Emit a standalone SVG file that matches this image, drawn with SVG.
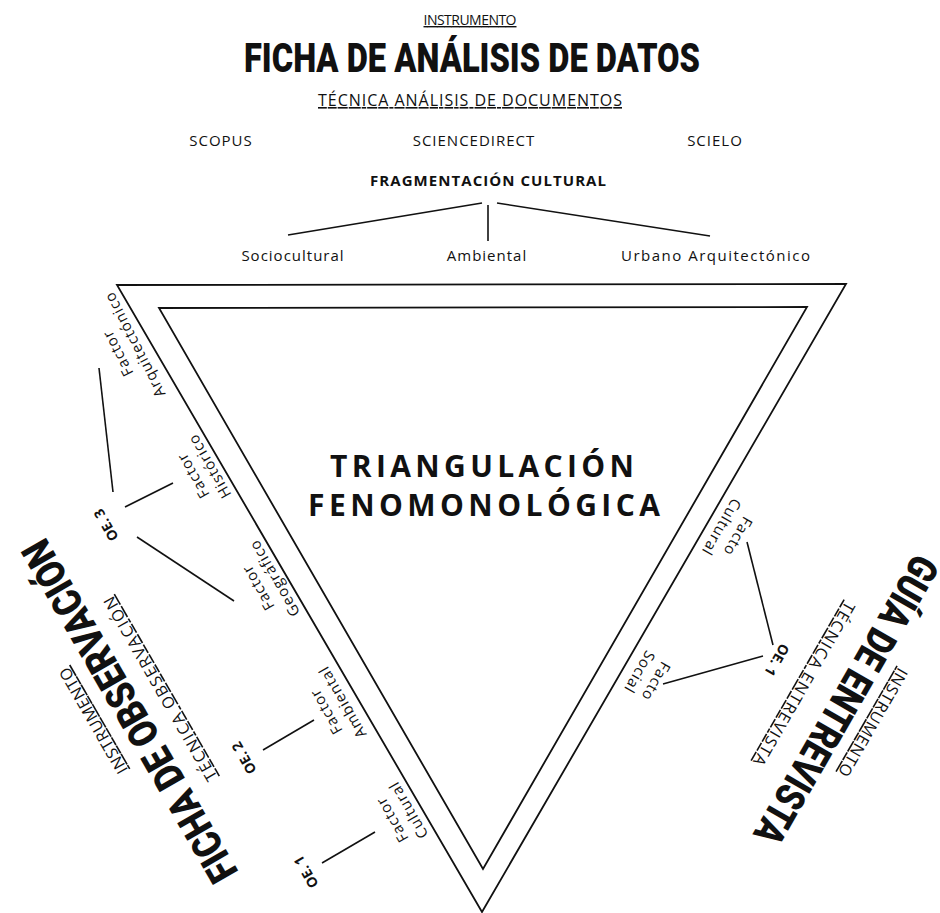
<svg xmlns="http://www.w3.org/2000/svg" width="940" height="913" viewBox="0 0 940 913">
<style>
.t{font-family:"Open Sans","Noto Sans",sans-serif;fill:#111}
.lab{font-size:15px;letter-spacing:1px;text-anchor:middle}
.src{font-size:15px;letter-spacing:1px;text-anchor:middle}
.oe{font-size:14px;font-weight:700;text-anchor:middle}
.big{font-family:Roboto,"Liberation Sans",sans-serif;font-weight:900;font-size:41px;fill:#111;text-anchor:middle}
.ul{text-decoration:underline}
.ln{stroke:#111;stroke-width:1.6;fill:none}
.tri{stroke:#111;stroke-width:1.8;fill:none}
</style>
<rect width="940" height="913" fill="#fff"/>

<g id="header">
<text class="t ul" x="470" y="25" font-size="14" text-anchor="middle" textLength="93" lengthAdjust="spacing">INSTRUMENTO</text>
<text class="big" x="472" y="72" font-size="42" textLength="456" lengthAdjust="spacingAndGlyphs">FICHA DE ANÁLISIS DE DATOS</text>
<text class="t ul" x="470" y="106" font-size="16" text-anchor="middle" textLength="304" lengthAdjust="spacing">TÉCNICA ANÁLISIS DE DOCUMENTOS</text>
</g>
<g id="scopus"><text class="t src" x="221" y="146">SCOPUS</text></g>
<g id="sciencedirect"><text class="t src" x="474" y="146">SCIENCEDIRECT</text></g>
<g id="scielo"><text class="t src" x="715" y="146">SCIELO</text></g>
<g id="fragmentacion"><text class="t" x="488" y="186" font-size="15" font-weight="700" text-anchor="middle" textLength="236" lengthAdjust="spacing">FRAGMENTACIÓN CULTURAL</text></g>
<g id="sociocultural"><text class="t lab" x="293" y="261">Sociocultural</text></g>
<g id="ambiental"><text class="t lab" x="487" y="261">Ambiental</text></g>
<g id="urbano"><text class="t lab" x="716" y="261" textLength="190" lengthAdjust="spacing">Urbano Arquitectónico</text></g>

<g id="triangle">
<polygon class="tri" points="117,285 846,284 482,912"/>
<polygon class="tri" points="159,308 807,307 483,869"/>
</g>
<g id="centro">
<text class="t" x="482" y="477" font-size="30" font-weight="700" text-anchor="middle" textLength="304" lengthAdjust="spacing">TRIANGULACIÓN</text>
<text class="t" x="484" y="516" font-size="30" font-weight="700" text-anchor="middle" textLength="352" lengthAdjust="spacing">FENOMONOLÓGICA</text>
</g>

<g id="f-arquitectonico" transform="translate(126,349) rotate(-117)">
<text class="t lab" x="0" y="-4">Factor</text><text class="t lab" x="0" y="15">Arquitectónico</text></g>
<g id="f-historico" transform="translate(201,471) rotate(-120)">
<text class="t lab" x="0" y="-4">Factor</text><text class="t lab" x="0" y="15">Histórico</text></g>
<g id="f-geografico" transform="translate(266,583) rotate(-120)">
<text class="t lab" x="0" y="-4">Factor</text><text class="t lab" x="0" y="15">Geográfico</text></g>
<g id="f-ambiental" transform="translate(334,707) rotate(-120)">
<text class="t lab" x="0" y="-4">Factor</text><text class="t lab" x="0" y="15">Ambiental</text></g>
<g id="f-cultural" transform="translate(400,815) rotate(-120)">
<text class="t lab" x="0" y="-4">Factor</text><text class="t lab" x="0" y="15">Cultural</text></g>

<g id="oe3" transform="translate(106,525) rotate(-120)"><text class="t oe" x="0" y="5">OE. 3</text></g>
<g id="oe2" transform="translate(244,758) rotate(-120)"><text class="t oe" x="0" y="5">OE. 2</text></g>
<g id="oe1-left" transform="translate(306,872) rotate(-120)"><text class="t oe" x="0" y="5">OE. 1</text></g>

<g id="r-cultural" transform="translate(730,532) rotate(120)">
<text class="t lab" x="0" y="-4">Facto</text><text class="t lab" x="0" y="15">Cultural</text></g>
<g id="r-social" transform="translate(648,677) rotate(120)">
<text class="t lab" x="0" y="-4">Facto</text><text class="t lab" x="0" y="15">Social</text></g>
<g id="oe1-right" transform="translate(777,660) rotate(120)"><text class="t oe" x="0" y="5">OE. 1</text></g>

<g id="ficha-observacion" transform="translate(130,711) rotate(-120)">
<text class="t ul" x="10" y="-31" font-size="16" text-anchor="middle" textLength="120" lengthAdjust="spacing">INSTRUMENTO</text>
<text class="big" x="0" y="14" textLength="388" lengthAdjust="spacingAndGlyphs">FICHA DE OBSERVACIÓN</text>
<text class="t ul" x="4" y="43" font-size="16" text-anchor="middle" textLength="210" lengthAdjust="spacing">TÉCNICA OBSERVACIÓN</text>
</g>
<g id="guia-entrevista" transform="translate(846,700) rotate(120)">
<text class="t ul" x="6" y="-29" font-size="16" text-anchor="middle" textLength="122" lengthAdjust="spacing">INSTRUMENTO</text>
<text class="big" x="0" y="14" textLength="326" lengthAdjust="spacingAndGlyphs">GUÍA DE ENTREVISTA</text>
<text class="t ul" x="7" y="50" font-size="16" text-anchor="middle" textLength="186" lengthAdjust="spacing">TÉCNICA ENTREVISTA</text>
</g>

<g id="connectors">
<line class="ln" x1="288" y1="235" x2="482" y2="203"/>
<line class="ln" x1="488" y1="205" x2="488" y2="241"/>
<line class="ln" x1="497" y1="203" x2="710" y2="236"/>
<line class="ln" x1="99" y1="368" x2="113" y2="492"/>
<line class="ln" x1="125" y1="507" x2="173" y2="483"/>
<line class="ln" x1="137" y1="537" x2="234" y2="601"/>
<line class="ln" x1="263" y1="750" x2="314" y2="720"/>
<line class="ln" x1="322" y1="863" x2="375" y2="832"/>
<line class="ln" x1="747" y1="542" x2="773" y2="645"/>
<line class="ln" x1="663" y1="684" x2="763" y2="656"/>
</g>
</svg>
